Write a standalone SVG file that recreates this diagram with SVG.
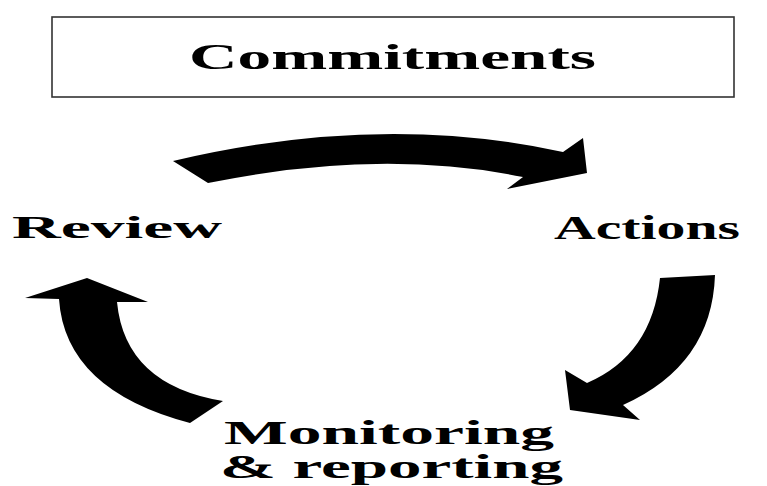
<svg xmlns="http://www.w3.org/2000/svg" width="767" height="486" viewBox="0 0 767 486">
<style>
.lbl{font-family:"Liberation Serif","Times New Roman",serif;font-weight:bold;fill:#000}
.arrow{fill:#000;stroke:none}
</style>
<rect width="767" height="486" fill="#fff"/>
<g id="commitments">
<rect x="52" y="17" width="682" height="80" fill="#fff" stroke="#333" stroke-width="1.6"/>
<text class="lbl" x="189" y="69" font-size="35" textLength="407" lengthAdjust="spacingAndGlyphs">Commitments</text>
</g>
<g id="review">
<text class="lbl" x="12" y="238" font-size="32" textLength="210" lengthAdjust="spacingAndGlyphs">Review</text>
</g>
<g id="actions">
<text class="lbl" x="554" y="239" font-size="34" textLength="186" lengthAdjust="spacingAndGlyphs">Actions</text>
</g>
<g id="monitoring">
<text class="lbl" x="224" y="444" font-size="34" textLength="330" lengthAdjust="spacingAndGlyphs">Monitoring</text>
<text class="lbl" x="220" y="478" font-size="34" textLength="343" lengthAdjust="spacingAndGlyphs">&amp; reporting</text>
</g>
<g id="connectors">
<path class="arrow" d="M173,161 Q380,112 563,152 L583,138 L587,173 L507,189 L523,177 Q380,148 208,183 Z"/>
<path class="arrow" d="M660,278 L715,275 Q712,365 623,405 L640,420 L570,410 L565,370 L587,383 Q652,355 660,278 Z"/>
<path class="arrow" d="M87,278 L148,302 L117,302 Q125,385 223,401 L190,423 Q65,390 59,299 L25,298 Z"/>
</g>
</svg>
